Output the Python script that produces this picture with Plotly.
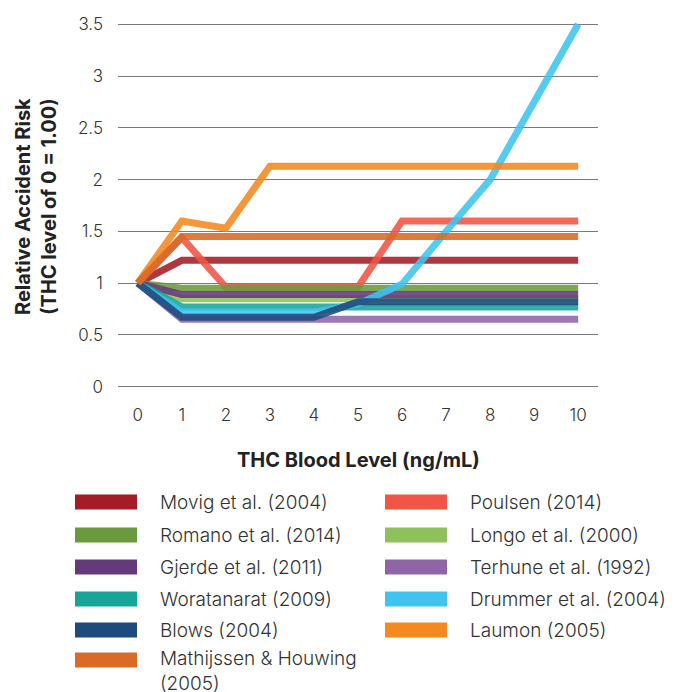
import textwrap
import plotly.graph_objects as go

# THC blood level (ng/mL)
thc_level = [0, 1, 2, 3, 4, 5, 6, 7, 8, 9, 10]

# relative accident risk per study (THC level 0 = 1.00), legend order row by row
movig = [1, 1.22, 1.22, 1.22, 1.22, 1.22, 1.22, 1.22, 1.22, 1.22, 1.22]
poulsen = [1, 1.44, 0.96, 0.96, 0.96, 0.96, 1.6, 1.6, 1.6, 1.6, 1.6]
romano = [1, 0.95, 0.95, 0.95, 0.95, 0.95, 0.95, 0.95, 0.95, 0.95, 0.95]
longo = [1, 0.85, 0.85, 0.85, 0.85, 0.85, 0.85, 0.85, 0.85, 0.85, 0.85]
gjerde = [1, 0.89, 0.89, 0.89, 0.89, 0.89, 0.89, 0.89, 0.89, 0.89, 0.89]
terhune = [1, 0.65, 0.65, 0.65, 0.65, 0.65, 0.65, 0.65, 0.65, 0.65, 0.65]
woratanarat = [1, 0.77, 0.77, 0.77, 0.77, 0.77, 0.77, 0.77, 0.77, 0.77, 0.77]
drummer = [1, 0.72, 0.72, 0.72, 0.72, 0.8, 0.99, 1.5, 2.0, 2.75, 3.5]
blows = [1, 0.67, 0.67, 0.67, 0.67, 0.82, 0.82, 0.82, 0.82, 0.82, 0.82]
laumon = [1, 1.6, 1.53, 2.13, 2.13, 2.13, 2.13, 2.13, 2.13, 2.13, 2.13]
mathijssen = [1, 1.45, 1.45, 1.45, 1.45, 1.45, 1.45, 1.45, 1.45, 1.45, 1.45]

y_ticks = [0, 0.5, 1, 1.5, 2, 2.5, 3, 3.5]
y_tick_labels = ["0", "0.5", "1", "1.5", "2", "2.5", "3", "3.5"]

studies = [
    ("Movig et al. (2004)", movig, "#a51c24"),
    ("Poulsen (2014)", poulsen, "#f05545"),
    ("Romano et al. (2014)", romano, "#6a9a3d"),
    ("Longo et al. (2000)", longo, "#8fc15b"),
    ("Gjerde et al. (2011)", gjerde, "#643a7b"),
    ("Terhune et al. (1992)", terhune, "#8e66a8"),
    ("Woratanarat (2009)", woratanarat, "#15a69a"),
    ("Drummer et al. (2004)", drummer, "#3ec4ef"),
    ("Blows (2004)", blows, "#1e4a7d"),
    ("Laumon (2005)", laumon, "#f3891f"),
    ("Mathijssen & Houwing (2005)", mathijssen, "#d96b27"),
]

# page body has an 8px margin, so the figure is drawn 8px smaller and everything
# below is given in screenshot pixels and shifted back
OFF = 8
W, H = 685 - OFF, 692 - OFF
L, R, T, B = 118, 598, 14, 397  # plot area in screenshot pixels

FONT = "Inter, Liberation Sans, Arial, sans-serif"


def px(x):
    return (x - L) / (R - L)


def py(y):
    return (B - y) / (B - T)


fig = go.Figure()
for name, vals, color in studies:
    fig.add_trace(go.Scatter(
        x=thc_level, y=vals, name=name, mode="lines",
        line=dict(color=color, width=7), opacity=0.88,
        showlegend=False,
    ))

# hand-made two-column legend
col_x = [75, 385]
row_y = [502, 535, 567, 599, 630, 660]
for i, (name, vals, color) in enumerate(studies):
    cx = col_x[i % 2]
    ry = row_y[i // 2]
    lines = textwrap.wrap(name, 21)
    fig.add_shape(type="rect", xref="paper", yref="paper",
                  x0=px(cx), x1=px(cx + 62), y0=py(ry + 7.5), y1=py(ry - 7.5),
                  fillcolor=color, line=dict(width=0))
    fig.add_annotation(x=px(cx + 83), y=py(ry - 13 - 2 * (len(lines) - 1)),
                       xref="paper", yref="paper", text="<br>".join(lines),
                       showarrow=False, xanchor="left", yanchor="top", align="left",
                       font=dict(size=19, color="#333333", weight=300))

fig.add_annotation(x=px(36), y=py(207), xref="paper", yref="paper",
                   text="<b>Relative Accident Risk<br>(THC level of 0 = 1.00)</b>",
                   textangle=-90, showarrow=False, xanchor="center", yanchor="middle",
                   font=dict(size=20, color="#222222"))
fig.add_annotation(x=px(358), y=py(460), xref="paper", yref="paper",
                   text="<b>THC Blood Level (ng/mL)</b>", showarrow=False,
                   xanchor="center", yanchor="middle",
                   font=dict(size=20, color="#222222"))

fig.update_xaxes(range=[-0.45, 10.45], tickvals=thc_level, showgrid=False,
                 zeroline=False, showline=False, ticks="", ticklabelstandoff=6,
                 tickfont=dict(size=17, color="#333333", weight=300))
fig.update_yaxes(range=[-0.1, 3.6], tickvals=y_ticks, ticktext=y_tick_labels,
                 showgrid=True, gridcolor="#7a7a7a", gridwidth=1,
                 zeroline=False, showline=False, ticks="", ticklabelstandoff=14,
                 tickfont=dict(size=17, color="#333333", weight=300))
fig.update_layout(
    width=W, height=H,
    margin=dict(l=L - OFF, r=685 - R, t=T - OFF, b=692 - B),
    plot_bgcolor="white", paper_bgcolor="white",
    font=dict(family=FONT),
)

fig.write_html("out.html")
